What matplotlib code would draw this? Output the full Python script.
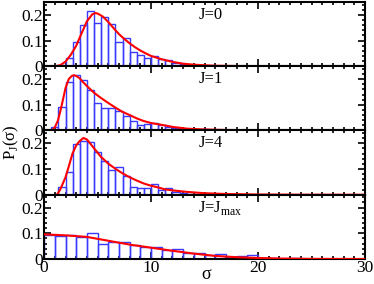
import numpy as np
import matplotlib
matplotlib.use("Agg")
import matplotlib.pyplot as plt
from matplotlib.ticker import MultipleLocator

# panel labels
labels = ["J=0", "J=1", "J=4", r"J=J$_{\mathrm{max}}$"]

# histogram bins: first left edge, bin width, heights
bin_start = [4 / 3, 2 / 3, 4 / 3, 0.0]
bin_width = [2 / 3, 2 / 3, 2 / 3, 1.0]

hist_j0 = [0.003, 0.033, 0.093, 0.16, 0.216, 0.167, 0.19, 0.163, 0.096, 0.109,
           0.056, 0.043, 0.031, 0.04, 0.027, 0.023, 0.013, 0.007, 0.005, 0.003,
           0.002]
hist_j1 = [0.013, 0.093, 0.19, 0.214, 0.196, 0.156, 0.107, 0.089, 0.089, 0.077,
           0.056, 0.036, 0.02, 0.024, 0.031, 0.02, 0.013, 0.009, 0.005, 0.003,
           0.002, 0.004]
hist_j4 = [0.032, 0.09, 0.196, 0.21, 0.207, 0.167, 0.132, 0.097, 0.109, 0.072,
           0.032, 0.028, 0.028, 0.041, 0.018, 0.028, 0.01, 0.008, 0.004, 0.002]
hist_jmax = [0.095, 0.09, 0.093, 0.086, 0.1, 0.058, 0.068, 0.068, 0.055, 0.046,
             0.045, 0.035, 0.04, 0.022, 0.022, 0.016, 0.02, 0.008, 0.01, 0.014,
             0.003, 0.002, 0.001, 0.003, 0.001]

# fitted curves
fit_x_j0 = [1.0, 1.5, 2.0, 2.5, 3.0, 3.5, 4.0, 4.5, 4.8, 5.0, 5.5, 6.0, 6.5, 7.0,
            7.5, 8.0, 8.5, 9.0, 9.5, 10, 11, 12, 13, 14, 15, 16, 18, 20, 24, 30]
fit_y_j0 = [0.0, 0.004, 0.018, 0.045, 0.08, 0.128, 0.175, 0.202, 0.207, 0.205,
            0.193, 0.172, 0.148, 0.125, 0.106, 0.089, 0.074, 0.061, 0.05, 0.04,
            0.027, 0.017, 0.01, 0.006, 0.004, 0.002, 0.001, 0.0005, 0.0002, 0.0]

fit_x_j1 = [0.7, 1.0, 1.3, 1.6, 2.0, 2.3, 2.6, 2.8, 3.0, 3.3, 3.6, 4.0, 4.66, 5.3,
            6.0, 6.67, 7.3, 8.0, 8.67, 9.3, 10, 10.7, 11.4, 12, 13.4, 15, 17, 20,
            24, 30]
fit_y_j1 = [0.0, 0.012, 0.04, 0.09, 0.165, 0.2, 0.213, 0.215, 0.212, 0.204,
            0.19, 0.173, 0.147, 0.127, 0.107, 0.089, 0.073, 0.06, 0.047, 0.037,
            0.029, 0.024, 0.019, 0.014, 0.007, 0.004, 0.002, 0.001, 0.0003, 0.0]

fit_x_j4 = [1.2, 1.5, 2.0, 2.3, 2.65, 3.0, 3.3, 3.67, 4.0, 4.3, 4.66, 5.3, 6.0,
            6.67, 7.3, 8.0, 8.67, 9.3, 10, 10.7, 11.3, 12, 13.4, 15, 17, 20, 24, 30]
fit_y_j4 = [0.0, 0.02, 0.068, 0.11, 0.16, 0.192, 0.208, 0.221, 0.215, 0.2,
            0.181, 0.148, 0.121, 0.101, 0.084, 0.068, 0.055, 0.044, 0.035, 0.028,
            0.021, 0.017, 0.011, 0.006, 0.003, 0.001, 0.0003, 0.0]

fit_x_jmax = [0, 2, 4, 6, 8, 10, 12, 14, 16, 18, 20, 22, 25, 30]
fit_y_jmax = [0.096, 0.092, 0.086, 0.071, 0.056, 0.044, 0.032, 0.021, 0.012,
              0.007, 0.004, 0.002, 0.0005, 0.0]

hists = [hist_j0, hist_j1, hist_j4, hist_jmax]
fits = [(fit_x_j0, fit_y_j0), (fit_x_j1, fit_y_j1),
        (fit_x_j4, fit_y_j4), (fit_x_jmax, fit_y_jmax)]

plt.rcParams['font.family'] = ['Liberation Serif', 'DejaVu Serif']
plt.rcParams['mathtext.fontset'] = 'custom'
plt.rcParams['mathtext.rm'] = 'Liberation Serif'

fig = plt.figure(figsize=(3.74, 2.84), dpi=100)
left, right, top, bottom = 0.118, 0.976, 0.993, 0.088
h = (top - bottom) / 4

for i in range(4):
    ax = fig.add_axes([left, top - (i + 1) * h, right - left, h])
    heights = hists[i]
    xs = bin_start[i] + np.arange(len(heights)) * bin_width[i]
    ax.bar(xs, heights, width=bin_width[i], align='edge', fill=False,
           edgecolor='#3a3aff', linewidth=1.0, zorder=2)
    ax.plot(fits[i][0], fits[i][1], color='red', linewidth=1.5, zorder=3)
    ax.set_xlim(0, 30)
    ax.set_ylim(0, 0.25)
    ax.xaxis.set_major_locator(MultipleLocator(10))
    ax.xaxis.set_minor_locator(MultipleLocator(1))
    ax.yaxis.set_major_locator(MultipleLocator(0.1))
    ax.yaxis.set_minor_locator(MultipleLocator(0.02))
    ax.set_yticks([0, 0.1, 0.2])
    ax.set_yticklabels(['0', '0.1', '0.2'])
    ax.tick_params(which='both', direction='in', top=True, right=True,
                   labelsize=12.5, width=1.2, pad=1)
    ax.tick_params(which='major', length=5)
    ax.tick_params(which='minor', length=2.5)
    for s in ax.spines.values():
        s.set_linewidth(1.5)
    if i < 3:
        ax.set_xticklabels([])
    else:
        ax.set_xticks([0, 10, 20, 30])
        ax.set_xticklabels(['0', '10', '20', '30'])
    ax.text(14.4, 0.2, labels[i], fontsize=12, va='center', ha='left')

fig.text(0.55, 0.005, 'σ', fontsize=13, ha='center', va='bottom')
fig.text(0.03, 0.5, r'P$_\mathrm{J}$(σ)', rotation=90,
         va='center', ha='center', fontsize=12)

fig.savefig('out.png', dpi=100)
